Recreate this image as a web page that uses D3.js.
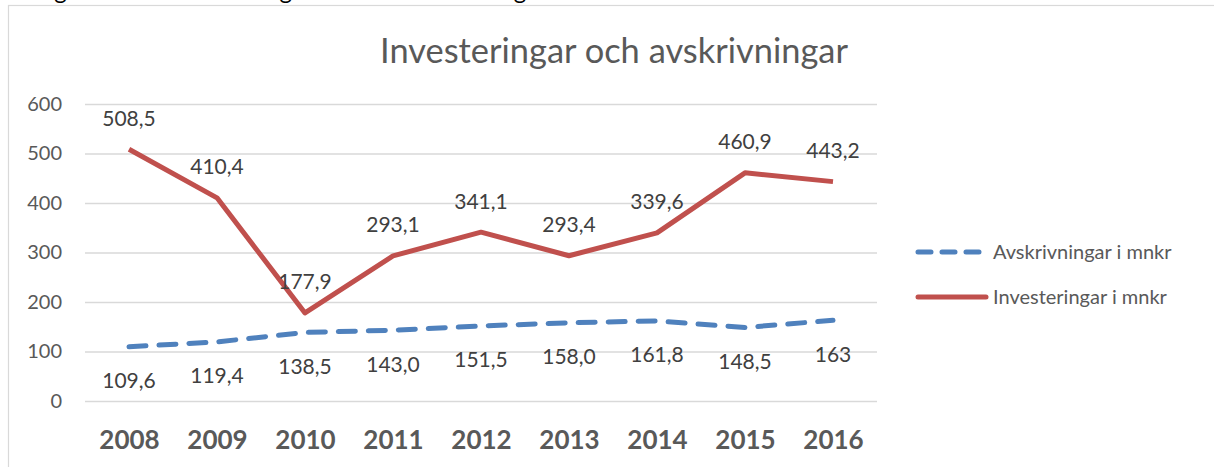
<!DOCTYPE html>
<html>
<head>
<meta charset="utf-8">
<script src="https://cdn.jsdelivr.net/npm/d3@7"></script>
<style>
  html, body { margin: 0; padding: 0; background: #fff; overflow: hidden; }
  svg { display: block; }
  text { font-family: Lato, "Open Sans", "DejaVu Sans", sans-serif; }
</style>
</head>
<body>
<svg id="chart" width="1214" height="467"></svg>
<script>
// Years on the category axis
const years = ["2008", "2009", "2010", "2011", "2012", "2013", "2014", "2015", "2016"];

// Series values (mnkr)
const avskrivningar = [109.6, 119.4, 138.5, 143.0, 151.5, 158.0, 161.8, 148.5, 163];
const investeringar = [508.5, 410.4, 177.9, 293.1, 341.1, 293.4, 339.6, 460.9, 443.2];

// Data label texts as printed on the chart
const avskrivningarLabels = ["109,6", "119,4", "138,5", "143,0", "151,5", "158,0", "161,8", "148,5", "163"];
const investeringarLabels = ["508,5", "410,4", "177,9", "293,1", "341,1", "293,4", "339,6", "460,9", "443,2"];

// Value axis ticks
const yTicks = [0, 100, 200, 300, 400, 500, 600];

const seriesNames = ["Avskrivningar i mnkr", "Investeringar i mnkr"];
const title = "Investeringar och avskrivningar";

const BLUE = "#4F81BD", RED = "#C0504D", GREY = "#595959", GRID = "#d9d9d9";

const svg = d3.select("#chart");

// Fit a text element to a target width by adjusting its font size
function fitWidth(sel, target) {
  sel.each(function () {
    const el = d3.select(this);
    const fs = parseFloat(el.attr("font-size"));
    const w = this.getComputedTextLength();
    if (w > 0) el.attr("font-size", (fs * target / w).toFixed(2));
  });
}

// Line of running document text just above the chart frame (only descenders show)
svg.append("text")
  .attr("x", 11).attr("y", -1.5)
  .attr("font-size", 24)
  .attr("fill", "#000")
  .attr("textLength", 541)
  .attr("lengthAdjust", "spacing")
  .text("Diagram 5 Investeringar och avskrivningar");

// Chart frame
svg.append("rect")
  .attr("x", 8.5).attr("y", 5.5)
  .attr("width", 1240).attr("height", 500)
  .attr("fill", "#fff")
  .attr("stroke", GRID).attr("stroke-width", 1.2);

// Title
svg.append("text")
  .attr("x", 614).attr("y", 63)
  .attr("text-anchor", "middle")
  .attr("font-size", 32)
  .attr("fill", GREY)
  .text(title)
  .call(fitWidth, 468);

// Scales
const x = d3.scalePoint().domain(years).range([85, 877]).padding(0.5);
const y = d3.scaleLinear().domain([0, 600]).range([401, 104]);

// Gridlines + value axis labels
const yAxis = d3.axisLeft(y).tickValues(yTicks).tickSize(-(877 - 85)).tickFormat(d3.format("d")).tickPadding(23);
const gy = svg.append("g").attr("transform", "translate(85,0)").call(yAxis);
gy.select(".domain").remove();
gy.selectAll(".tick line").attr("stroke", GRID).attr("stroke-width", 1.5);
gy.selectAll(".tick text")
  .attr("fill", GREY)
  .attr("font-size", 20)
  .attr("font-family", "Lato, sans-serif");

// Category axis labels
const xAxis = d3.axisBottom(x).tickSize(0).tickPadding(0);
const gx = svg.append("g").attr("transform", "translate(0,440)").call(xAxis);
gx.select(".domain").remove();
gx.selectAll(".tick text")
  .attr("fill", GREY)
  .attr("font-size", 26)
  .attr("font-weight", "bold")
  .attr("font-family", "Lato, sans-serif")
  .attr("dy", "0.35em");

const line = d3.line().x((d, i) => x(years[i])).y(d => y(d));

// Avskrivningar: dashed blue
svg.append("path")
  .datum(avskrivningar)
  .attr("d", line)
  .attr("fill", "none")
  .attr("stroke", BLUE)
  .attr("stroke-width", 5)
  .attr("stroke-linecap", "round")
  .attr("stroke-linejoin", "round")
  .attr("stroke-dasharray", "17 13");

// Investeringar: solid red
svg.append("path")
  .datum(investeringar)
  .attr("d", line)
  .attr("fill", "none")
  .attr("stroke", RED)
  .attr("stroke-width", 5)
  .attr("stroke-linejoin", "round");

// Data labels
function labels(values, texts, offset) {
  svg.append("g").selectAll("text")
    .data(values)
    .join("text")
    .attr("x", (d, i) => x(years[i]))
    .attr("y", d => y(d) + offset)
    .attr("dy", "0.35em")
    .attr("text-anchor", "middle")
    .attr("font-size", 21)
    .attr("fill", "#404040")
    .text((d, i) => texts[i]);
}
labels(investeringar, investeringarLabels, -31);
labels(avskrivningar, avskrivningarLabels, 34);

// Legend
const legend = svg.append("g");
const legendItems = [
  { name: seriesNames[0], color: BLUE, dash: "13 11", cap: "round", y: 252 },
  { name: seriesNames[1], color: RED, dash: null, cap: "round", y: 297 }
];
legendItems.forEach(it => {
  legend.append("line")
    .attr("x1", 918).attr("x2", it.dash ? 981 : 986)
    .attr("y1", it.y).attr("y2", it.y)
    .attr("stroke", it.color)
    .attr("stroke-width", 5)
    .attr("stroke-linecap", it.cap)
    .attr("stroke-dasharray", it.dash);
  legend.append("text")
    .attr("x", 993).attr("y", it.y)
    .attr("dy", "0.35em")
    .attr("font-size", 20)
    .attr("fill", GREY)
    .text(it.name);
});
</script>
</body>
</html>
